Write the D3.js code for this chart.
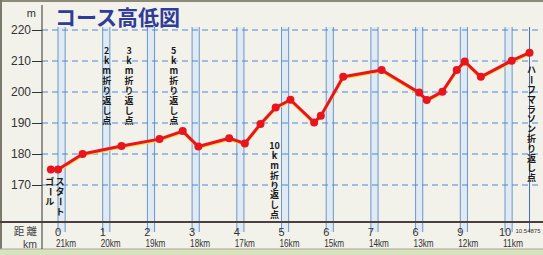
<!DOCTYPE html>
<html>
<head>
<meta charset="utf-8">
<script src="https://cdn.jsdelivr.net/npm/d3@7"></script>
<style>
  html, body { margin: 0; padding: 0; background: #f2f1ea; }
  svg { display: block; }
</style>
</head>
<body>
<div class="main-chart"></div>
<script>
// elevation profile (km from start, metres)
const profileKm = [-0.16, 0, 0.55, 1.42, 2.27, 2.79, 3.14, 3.83, 4.18, 4.53, 4.87, 5.2, 5.73, 5.88,
                   6.38, 7.24, 8.08, 8.25, 8.6, 8.92, 9.1, 9.46, 10.15, 10.54875];
const profileM = [175, 175, 180, 182.6, 184.8, 187.4, 182.4, 185.1, 183.4, 189.7, 195, 197.5, 190.2, 192.3,
                  204.9, 207.1, 199.8, 197.4, 200.1, 207.1, 209.8, 204.9, 210.1, 212.7];

const yTicks = [170, 180, 190, 200, 210, 220];
const kmOut = [0, 1, 2, 3, 4, 5, 6, 7, 8, 9, 10];
const kmOutLabels = ["0", "1", "2", "3", "4", "5", "6", "7", "6", "9", "10"];
const kmBack = [21, 20, 19, 18, 17, 16, 15, 14, 13, 12, 11];
const backBase = 21.16;
const turnKm = 10.54875;
const turnDist = [2, 3, 5, 10];

const width = 543, height = 255;
const margin = { top: 30, left: 42, bottom: 222, right: 538 };

const svg = d3.select(".main-chart").append("svg")
    .attr("width", width)
    .attr("height", height);

const x = d3.scaleLinear().domain([0, 10]).range([58, 505]);
const y = d3.scaleLinear().domain([170, 220]).range([185, 30]);

const jp = "'Noto Sans CJK JP', sans-serif";
const num = "'Liberation Sans', Arial, sans-serif";

// frame
svg.append("rect").attr("width", width).attr("height", height).attr("fill", "#f2f1ea");
svg.append("rect").attr("x", 0).attr("y", 0).attr("width", width).attr("height", 2).attr("fill", "#8c8a78");
svg.append("rect").attr("x", 0).attr("y", 0).attr("width", 2).attr("height", height).attr("fill", "#7c7a6c");
svg.append("rect").attr("x", 0).attr("y", 249).attr("width", width).attr("height", 6).attr("fill", "#d6e3bd");
svg.append("line").attr("x1", 0).attr("x2", width).attr("y1", 249).attr("y2", 249)
    .attr("stroke", "#a9a79a").attr("stroke-width", 1);

// km bands (outbound / return pairs)
const bands = svg.append("g");
kmOut.forEach((k, i) => {
    const x0 = x(k), x1 = x(backBase - kmBack[i]);
    bands.append("rect")
        .attr("x", x0).attr("y", 27).attr("width", x1 - x0).attr("height", 205)
        .attr("fill", "#e0eaf3");
    [x0, x1].forEach(xx => {
        bands.append("line")
            .attr("x1", xx).attr("x2", xx).attr("y1", 27).attr("y2", 232)
            .attr("stroke", "#6b97cc").attr("stroke-width", 1);
    });
});
bands.append("line")
    .attr("x1", x(turnKm)).attr("x2", x(turnKm)).attr("y1", 27).attr("y2", 232)
    .attr("stroke", "#3f70b0").attr("stroke-width", 1);

// dashed grid
svg.append("g").selectAll("line").data(yTicks).join("line")
    .attr("x1", margin.left).attr("x2", margin.right)
    .attr("y1", d => y(d)).attr("y2", d => y(d))
    .attr("stroke", "#4f87d2").attr("stroke-width", 1)
    .attr("stroke-dasharray", "6,4");

// y axis
const yAxis = svg.append("g")
    .attr("transform", `translate(${margin.left},0)`)
    .call(d3.axisLeft(y).tickValues(yTicks).tickSize(10).tickPadding(1).tickFormat(d3.format("d")));
yAxis.select(".domain").remove();
yAxis.selectAll(".tick line").attr("stroke", "#333");
yAxis.selectAll(".tick text").attr("font-family", num).attr("font-size", 12).attr("fill", "#333");
svg.append("line").attr("x1", margin.left).attr("x2", margin.left).attr("y1", 5).attr("y2", 249)
    .attr("stroke", "#333").attr("stroke-width", 1);
svg.append("text").attr("x", 36).attr("y", 17).attr("text-anchor", "end")
    .attr("font-family", num).attr("font-size", 11).attr("fill", "#333").text("m");

// baseline
svg.append("line").attr("x1", 0).attr("x2", width).attr("y1", margin.bottom).attr("y2", margin.bottom)
    .attr("stroke", "#4a3f3f").attr("stroke-width", 2);

// bottom labels
svg.append("text").attr("x", 37).attr("y", 235).attr("text-anchor", "end")
    .attr("font-family", jp).attr("font-size", 10.5).attr("fill", "#444").text("距 離");
svg.append("text").attr("x", 37).attr("y", 247.5).attr("text-anchor", "end")
    .attr("font-family", num).attr("font-size", 10.5).attr("fill", "#444").text("km");

svg.append("g").selectAll("text").data(kmOut).join("text")
    .attr("x", d => x(d)).attr("y", 236).attr("text-anchor", "middle")
    .attr("font-family", num).attr("font-size", 11).attr("fill", "#333")
    .text((d, i) => kmOutLabels[i]);
svg.append("g").selectAll("text").data(kmBack).join("text")
    .attr("x", (d, i) => x(kmOut[i]) - 2).attr("y", 247)
    .attr("font-family", num).attr("font-size", 11).attr("fill", "#333")
    .attr("textLength", 20).attr("lengthAdjust", "spacingAndGlyphs")
    .text(d => d + "km");
svg.append("text").attr("x", x(turnKm) - 14).attr("y", 232.5)
    .attr("font-family", num).attr("font-size", 6).attr("fill", "#333")
    .text(String(turnKm));

// title
svg.append("text").attr("x", 55).attr("y", 25)
    .attr("font-family", jp).attr("font-size", 21).attr("font-weight", "bold")
    .attr("fill", "#2f3c98").text("コース高低図");

// profile line
const pts = profileKm.map((k, i) => [x(k), y(profileM[i])]);
const line = d3.line();
svg.append("path").attr("d", line(pts.map(p => [p[0], p[1] + 1.6])))
    .attr("fill", "none").attr("stroke", "#f3dc3a").attr("stroke-width", 2).attr("stroke-linejoin", "round");
svg.append("path").attr("d", line(pts))
    .attr("fill", "none").attr("stroke", "#e8141e").attr("stroke-width", 3).attr("stroke-linejoin", "round");
svg.append("g").selectAll("circle").data(pts).join("circle")
    .attr("cx", d => d[0]).attr("cy", d => d[1]).attr("r", 4)
    .attr("fill", "#e8141e");

// vertical labels, one character per row
function vtext(chars, cx, top, step) {
    const g = svg.append("g");
    chars.forEach((c, i) => {
        const cy = top + i * step;
        const t = g.append("text")
            .attr("x", cx).attr("y", cy + 3.3)
            .attr("text-anchor", "middle")
            .attr("font-family", jp).attr("font-size", 9).attr("font-weight", "bold")
            .attr("fill", "#1a1a1a").text(c);
        if (c === "ー") t.attr("transform", `rotate(90,${cx},${cy})`);
    });
}
const turnText = d => (d >= 10 ? [String(d)] : String(d).split("")).concat(["k", "m", "折", "り", "返", "し", "点"]);
turnDist.forEach(d => {
    if (d < 10) vtext(turnText(d), x(d / 2) + 4, 51, 10);
    else vtext(turnText(d), x(d / 2) - 7, 146, 9.8);
});
vtext("ハーフマラソン折り返し点".split(""), x(turnKm) + 2, 70, 9.8);
vtext("スタート".split(""), x(0) + 2, 182, 9.8);
vtext("ゴール".split(""), x(profileKm[0]) - 1, 182, 9.8);
</script>
</body>
</html>
